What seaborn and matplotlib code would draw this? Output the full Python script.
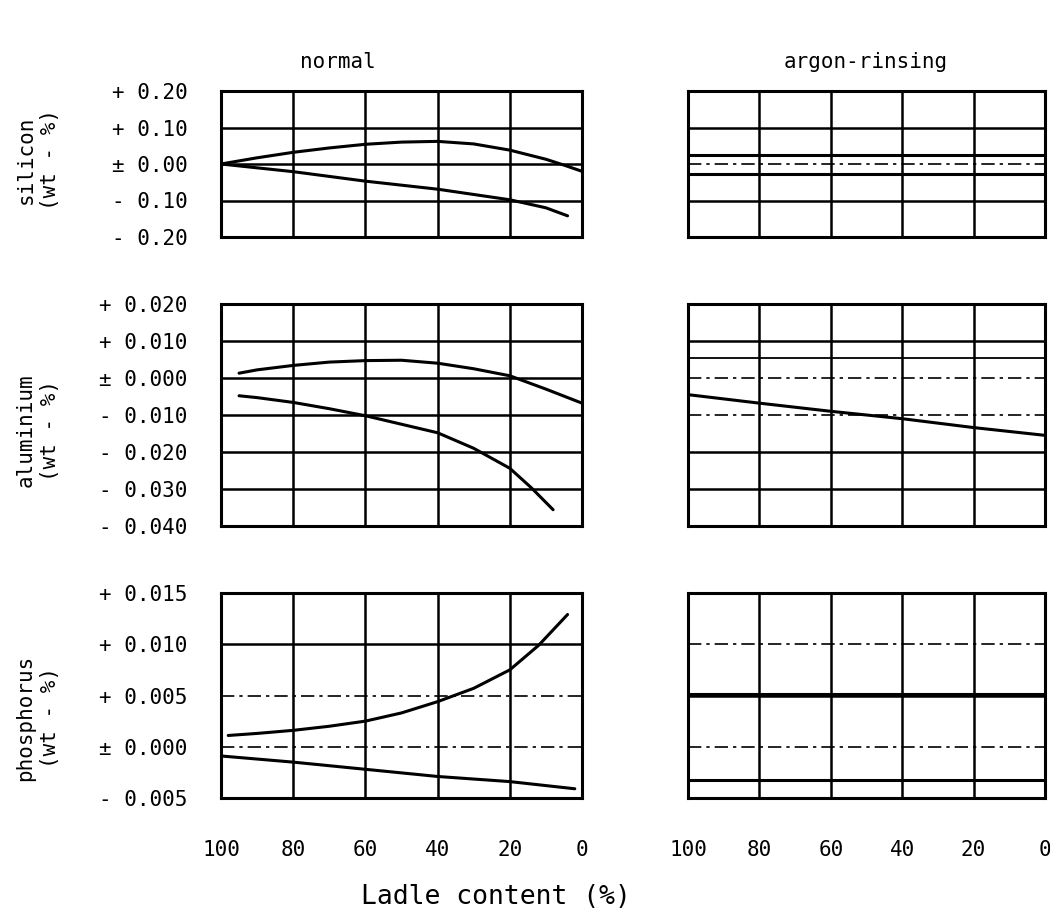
import numpy as np
import pandas as pd
import matplotlib
matplotlib.use("Agg")
import matplotlib.pyplot as plt
import seaborn as sns

# ── Data ──────────────────────────────────────────────────────────────────────
# silicon, normal
si_up_x = [100, 90, 80, 70, 60, 50, 40, 30, 20, 10, 5, 0]
si_up_y = [0.0, 0.017, 0.032, 0.044, 0.054, 0.060, 0.062, 0.055, 0.038, 0.013, -0.003, -0.020]
si_lo_x = [100, 80, 60, 40, 20, 10, 4]
si_lo_y = [0.0, -0.021, -0.047, -0.069, -0.098, -0.120, -0.142]
# aluminium, normal
al_up_x = [95, 90, 80, 70, 60, 50, 40, 30, 20, 10, 0]
al_up_y = [0.0013, 0.0022, 0.0034, 0.0043, 0.0047, 0.0048, 0.0040, 0.0025, 0.0006, -0.0030, -0.0068]
al_lo_x = [95, 90, 80, 70, 60, 50, 40, 30, 20, 14, 8]
al_lo_y = [-0.0048, -0.0053, -0.0066, -0.0083, -0.0102, -0.0125, -0.0148, -0.0190, -0.0244, -0.0297, -0.0356]
# phosphorus, normal
p_up_x = [98, 90, 80, 70, 60, 50, 40, 30, 20, 12, 4]
p_up_y = [0.0011, 0.0013, 0.0016, 0.0020, 0.0025, 0.0033, 0.0044, 0.0057, 0.0075, 0.0099, 0.0129]
p_lo_x = [100, 80, 60, 40, 20, 2]
p_lo_y = [-0.0009, -0.0015, -0.0022, -0.0029, -0.0034, -0.0041]

# argon-rinsing
ar_si_x = [100, 0]
ar_si_up_y = [0.024, 0.024]
ar_si_lo_y = [-0.027, -0.027]
ar_al_x = [100, 80, 60, 40, 20, 0]
ar_al_up_y = [0.0053, 0.0053, 0.0053, 0.0053, 0.0053, 0.0053]
ar_al_lo_y = [-0.0045, -0.0068, -0.0090, -0.0110, -0.0134, -0.0155]
ar_p_x = [100, 0]
ar_p_up_y = [0.0051, 0.0051]
ar_p_lo_y = [-0.0032, -0.0032]

x_ticks = [100, 80, 60, 40, 20, 0]
si_ticks = [0.20, 0.10, 0.0, -0.10, -0.20]
si_labels = ["+ 0.20", "+ 0.10", "± 0.00", "- 0.10", "- 0.20"]
al_ticks = [0.020, 0.010, 0.0, -0.010, -0.020, -0.030, -0.040]
al_labels = ["+ 0.020", "+ 0.010", "± 0.000", "- 0.010", "- 0.020", "- 0.030", "- 0.040"]
p_ticks = [0.015, 0.010, 0.005, 0.0, -0.005]
p_labels = ["+ 0.015", "+ 0.010", "+ 0.005", "± 0.000", "- 0.005"]

elements = ["silicon", "aluminium", "phosphorus"]
columns = ["normal", "argon-rinsing"]

def frame(x, y, name):
    return pd.DataFrame({"ladle": x, "value": y, "curve": name})

curves = {
    ("silicon", "normal"): [frame(si_up_x, si_up_y, "upper"), frame(si_lo_x, si_lo_y, "lower")],
    ("aluminium", "normal"): [frame(al_up_x, al_up_y, "upper"), frame(al_lo_x, al_lo_y, "lower")],
    ("phosphorus", "normal"): [frame(p_up_x, p_up_y, "upper"), frame(p_lo_x, p_lo_y, "lower")],
    ("silicon", "argon-rinsing"): [frame(ar_si_x, ar_si_up_y, "upper"), frame(ar_si_x, ar_si_lo_y, "lower")],
    ("aluminium", "argon-rinsing"): [frame(ar_al_x, ar_al_up_y, "upper"), frame(ar_al_x, ar_al_lo_y, "lower")],
    ("phosphorus", "argon-rinsing"): [frame(ar_p_x, ar_p_up_y, "upper"), frame(ar_p_x, ar_p_lo_y, "lower")],
}
yaxes = {
    "silicon": (si_ticks, si_labels),
    "aluminium": (al_ticks, al_labels),
    "phosphorus": (p_ticks, p_labels),
}
# gridlines drawn dash-dot in the original (by tick index)
dashed = {
    ("phosphorus", "normal"): [2, 3],
    ("silicon", "argon-rinsing"): [2],
    ("aluminium", "argon-rinsing"): [2, 3],
    ("phosphorus", "argon-rinsing"): [1, 3],
}

# ── Figure ────────────────────────────────────────────────────────────────────
sns.set_theme(style="white")
plt.rcParams["font.family"] = ["DejaVu Sans Mono"]
plt.rcParams["text.color"] = "black"
fig = plt.figure(figsize=(10.5, 9.16), dpi=100)
W, H = 1050, 916

col_px = {"normal": (221, 582), "argon-rinsing": (688, 1045)}
row_px = {"silicon": (91, 237), "aluminium": (304, 526), "phosphorus": (593, 798)}
thin = {("aluminium", "argon-rinsing"): "upper"}

for el in elements:
    for col in columns:
        x0, x1 = col_px[col]
        y0, y1 = row_px[el]
        ax = fig.add_axes([x0 / W, 1 - y1 / H, (x1 - x0) / W, (y1 - y0) / H])
        for df in curves[(el, col)]:
            lw = 1.3 if thin.get((el, col)) == df["curve"].iloc[0] else 2.2
            sns.lineplot(data=df, x="ladle", y="value", color="black", lw=lw,
                         ax=ax, legend=False, sort=False)
        ticks, labels = yaxes[el]
        ax.set_xlim(100, 0)
        ax.set_ylim(min(ticks), max(ticks))
        ax.set_xticks(x_ticks)
        ax.set_yticks(ticks)
        ax.grid(True, color="black", lw=1.8)
        for i in dashed.get((el, col), []):
            ax.get_ygridlines()[i].set_linestyle((0, (8, 3, 2, 3)))
            ax.get_ygridlines()[i].set_linewidth(1.2)
        for s in ax.spines.values():
            s.set_color("black")
            s.set_linewidth(2.2)
        ax.set_xlabel("")
        ax.set_ylabel("")
        ax.tick_params(length=0, labelsize=15, colors="black")
        ax.tick_params(axis="y", pad=24)
        ax.tick_params(axis="x", pad=30)
        if col == "normal":
            ax.set_yticklabels(labels)
        else:
            ax.set_yticklabels([])
        if el != "phosphorus":
            ax.set_xticklabels([])
        else:
            ax.set_xticklabels([str(t) for t in x_ticks])

# column titles
fig.text(338 / W, 1 - 62 / H, "normal", ha="center", va="center", fontsize=15, color="black")
fig.text(866 / W, 1 - 62 / H, "argon-rinsing", ha="center", va="center", fontsize=15, color="black")

# row labels
label_y = {"silicon": 160, "aluminium": 430, "phosphorus": 718}
for el in elements:
    fig.text(38 / W, 1 - label_y[el] / H, el + "\n(wt - %)", rotation=90,
             ha="center", va="center", multialignment="center",
             fontsize=15, linespacing=1.3, color="black")

fig.text(496 / W, 1 - 897 / H, "Ladle content (%)", ha="center", va="center",
         fontsize=19, color="black")

fig.savefig("out.png", dpi=100, facecolor="white")
